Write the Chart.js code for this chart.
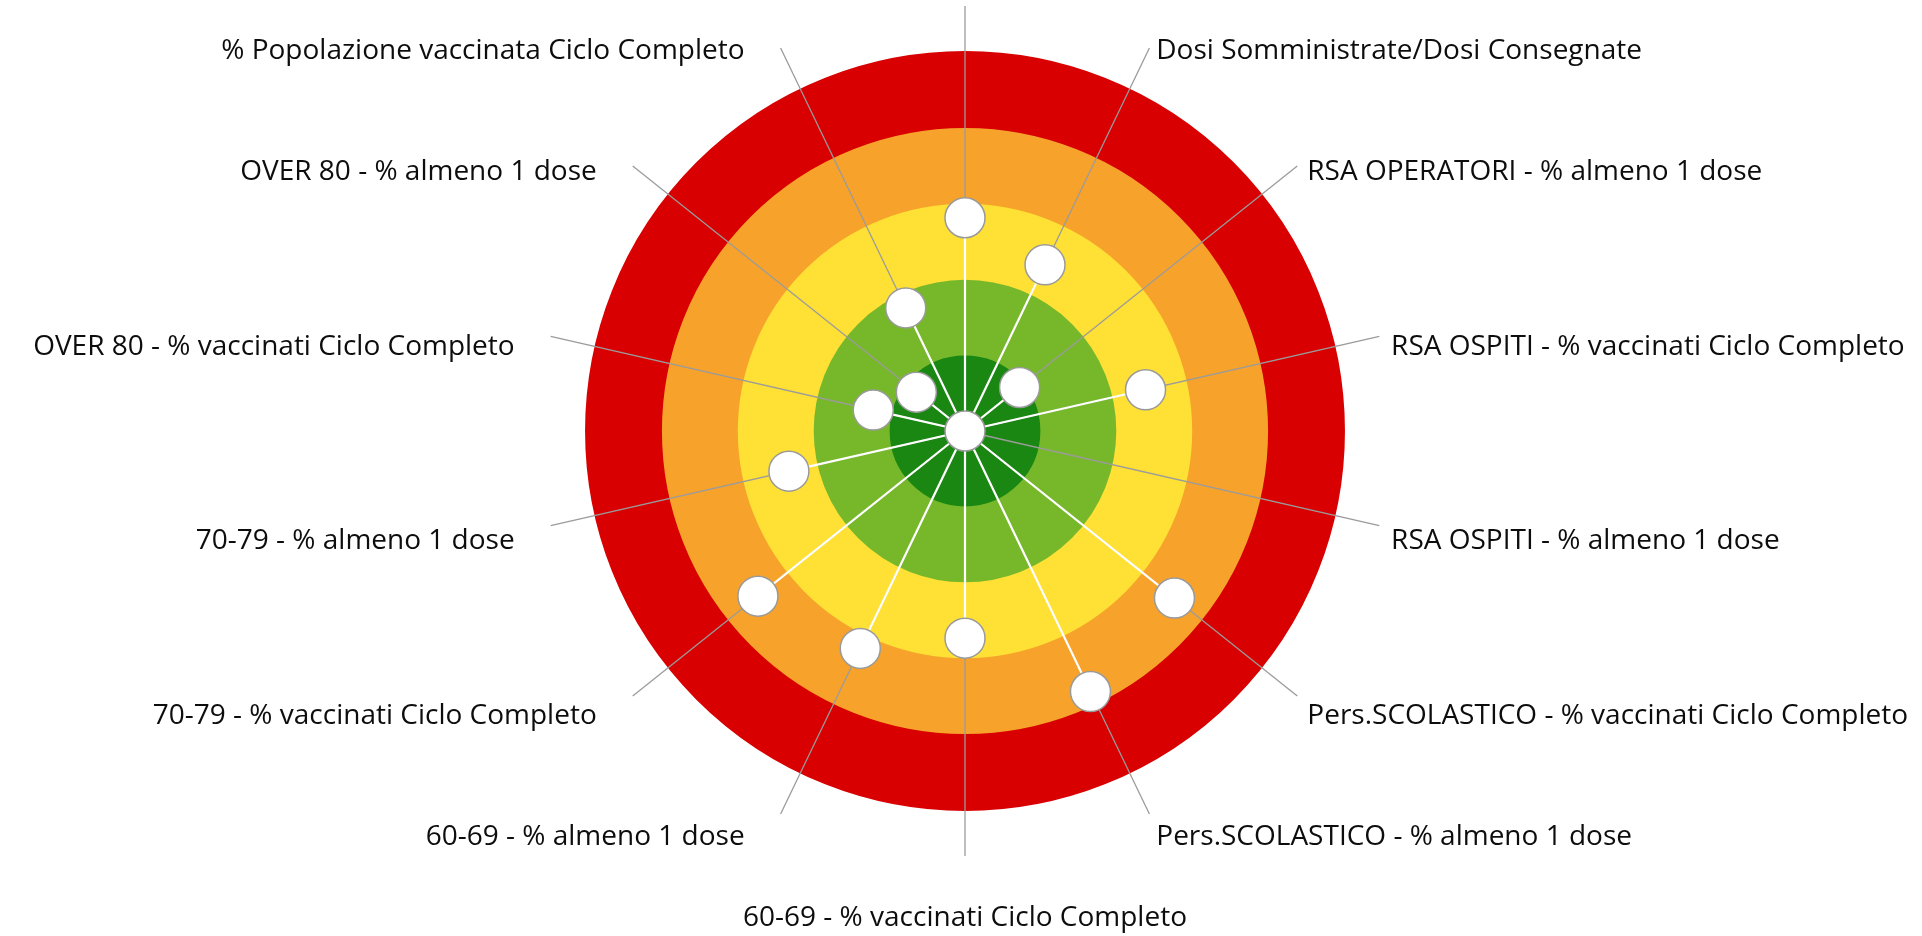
<!DOCTYPE html>
<html lang="it">
<head>
<meta charset="utf-8">
<title>Radar vaccinazioni</title>
<script src="https://cdn.jsdelivr.net/npm/chart.js@4.4.1/dist/chart.umd.min.js"></script>
<style>
  html, body { margin: 0; padding: 0; background: #ffffff; }
  #wrap { width: 1922px; height: 936px; }
</style>
</head>
<body>
<div id="wrap"><canvas id="radar" width="1922" height="936"></canvas></div>
<script>
// Axis captions, clockwise from the top spoke (the top spoke carries no caption)
const categories = [
  '',
  'Dosi Somministrate/Dosi Consegnate',
  'RSA OPERATORI - % almeno 1 dose',
  'RSA OSPITI - % vaccinati Ciclo Completo',
  'RSA OSPITI - % almeno 1 dose',
  'Pers.SCOLASTICO - % vaccinati Ciclo Completo',
  'Pers.SCOLASTICO - % almeno 1 dose',
  '60-69 - % vaccinati Ciclo Completo',
  '60-69 - % almeno 1 dose',
  '70-79 - % vaccinati Ciclo Completo',
  '70-79 - % almeno 1 dose',
  'OVER 80 - % vaccinati Ciclo Completo',
  'OVER 80 - % almeno 1 dose',
  '% Popolazione vaccinata Ciclo Completo'
];

// Score of each indicator (0 = centre, 5 = outer edge of the red ring)
const scores = [2.81, 2.43, 0.92, 2.44, 0, 3.53, 3.81, 2.73, 3.18, 3.49, 2.38, 1.24, 0.82, 1.80];

// Band limits of the target, inner to outer
const bandLimits = [1, 2, 3, 4, 5];
const bandColors = ['#1b8713', '#77b82b', '#ffe035', '#f7a32b', '#d80000'];

// Radial extent of the axis (the grey leader lines run out to this value)
const axisMax = 5.6;

// Each band is stroked as one thick circle centred in the band
const bandCenters = bandLimits.map((lim, i) => (lim + (i ? bandLimits[i - 1] : 0)) / 2);

// One white spoke per indicator: centre -> point -> centre
const spokeSets = scores.map((v, i) => ({
  data: scores.map((_, j) => (j === i ? v : 0)),
  borderColor: '#ffffff',
  borderWidth: 2.2,
  pointRadius: 0,
  pointHoverRadius: 0,
  fill: false,
  tension: 0,
  order: 2
}));

const pointSet = {
  data: scores,
  showLine: false,
  pointRadius: 20,
  pointHoverRadius: 20,
  pointBackgroundColor: '#ffffff',
  pointBorderColor: '#9a9a9a',
  pointBorderWidth: 1.5,
  fill: false,
  order: 1
};

// Captions at the outer end of each leader line
const captionPlugin = {
  id: 'captions',
  afterDraw(chart) {
    const s = chart.scales.r;
    const ctx = chart.ctx;
    ctx.save();
    ctx.font = '28px "Open Sans", "Noto Sans", sans-serif';
    ctx.fillStyle = '#0d0d0d';
    ctx.textBaseline = 'alphabetic';
    categories.forEach((text, i) => {
      if (!text) return;
      const a = s.getIndexAngle(i);
      const sn = Math.sin(a), cs = Math.cos(a);
      const end = s.getPointPosition(i, s.drawingArea);
      let x = end.x, y;
      if (Math.abs(sn) < 0.05) {
        ctx.textAlign = 'center';
        y = cs > 0 ? end.y - 20 : end.y + 70;
      } else {
        y = end.y + 10 + 11 * (1 - cs);
        if (sn > 0) { ctx.textAlign = 'left'; x = end.x + 3 + 9 * sn; }
        else { ctx.textAlign = 'right'; x = end.x - 36; }
      }
      ctx.fillText(text, x, y);
    });
    ctx.restore();
  }
};

new Chart(document.getElementById('radar'), {
  type: 'radar',
  data: {
    labels: categories,
    datasets: [pointSet, ...spokeSets]
  },
  options: {
    responsive: false,
    animation: false,
    events: [],
    layout: { padding: { left: 540, right: 532, top: 6, bottom: 80 } },
    plugins: { legend: { display: false }, tooltip: { enabled: false } },
    scales: {
      r: {
        min: 0,
        max: axisMax,
        startAngle: 0,
        ticks: { display: false },
        pointLabels: { display: false },
        grid: {
          circular: true,
          color: c => bandColors[Math.min(bandColors.length - 1, Math.floor(c.tick.value))],
          lineWidth: c => c.scale.drawingArea / (c.scale.max - c.scale.min) + 1
        },
        angleLines: { display: true, color: '#9b9b9b', lineWidth: 1.3 },
        afterBuildTicks: s => { s.ticks = [0, ...bandCenters].map(v => ({ value: v })); },
        afterFit: s => {
          s.xCenter = Math.round((s.left + s.right) / 2);
          s.yCenter = Math.round((s.top + s.bottom) / 2);
          s.drawingArea = Math.min(s.right - s.left, s.bottom - s.top) / 2;
        }
      }
    }
  },
  plugins: [captionPlugin]
});
</script>
</body>
</html>
